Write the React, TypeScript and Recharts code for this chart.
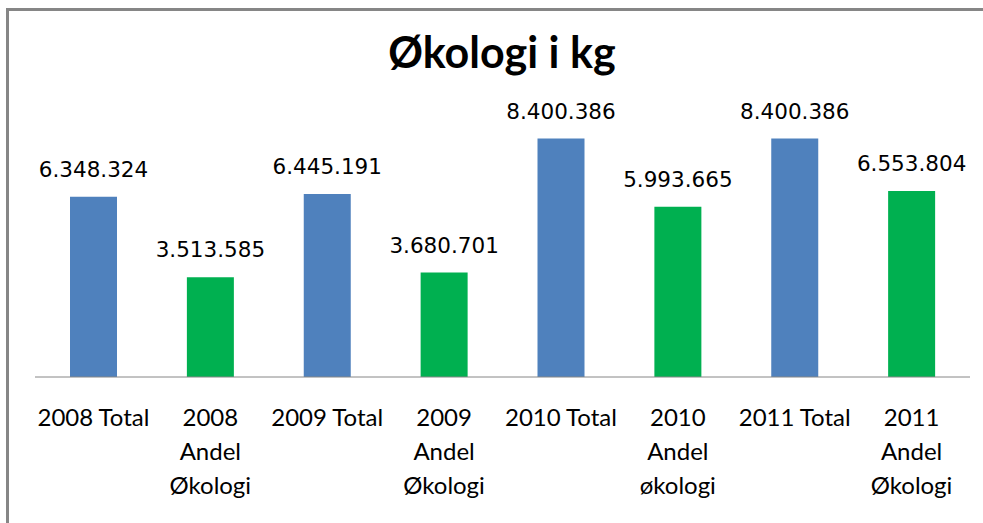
import { Bar, BarChart, LabelList, XAxis, YAxis, Cell } from 'recharts'

const CATEGORIES = [
  '2008 Total',
  '2008\nAndel\nØkologi',
  '2009 Total',
  '2009\nAndel\nØkologi',
  '2010 Total',
  '2010\nAndel\nøkologi',
  '2011 Total',
  '2011\nAndel\nØkologi',
]

const KG_VALUES = [6348324, 3513585, 6445191, 3680701, 8400386, 5993665, 8400386, 6553804]

const BAR_COLORS = ['#4F81BD', '#00B050']

const TITLE = 'Økologi i kg'

const rows = CATEGORIES.map((label, i) => ({ label, kg: KG_VALUES[i] }))

// danish style thousands separator
const formatKg = (v: number) => String(v).replace(/\B(?=(\d{3})+(?!\d))/g, '.')

function CategoryTick({ x, y, payload }: any) {
  const lines = String(payload.value).split('\n')
  return (
    <text
      x={x}
      y={y}
      textAnchor="middle"
      fill="#000"
      fontFamily="Lato, sans-serif"
      fontSize={24}
    >
      {lines.map((line, i) => (
        <tspan key={i} x={x} dy={i === 0 ? 49 : 34}>
          {line}
        </tspan>
      ))}
    </text>
  )
}

export default function App() {
  return (
    <div style={{ position: 'relative', width: 983, height: 523, overflow: 'hidden', background: '#fff' }}>
      <style>{'body{margin:0}'}</style>
      <div
        style={{
          position: 'absolute',
          left: 6,
          top: 8,
          width: 1100,
          height: 700,
          border: '3px solid #868686',
        }}
      />
      <div
        style={{
          position: 'absolute',
          left: 0,
          width: 1004,
          top: 26,
          textAlign: 'center',
          fontFamily: 'Lato, sans-serif',
          fontWeight: 700,
          fontSize: 43,
          lineHeight: '52px',
        }}
      >
        {TITLE}
      </div>
      <div style={{ position: 'absolute', left: 0, top: 0 }}>
        <BarChart
          width={983}
          height={523}
          data={rows}
          margin={{ top: 121.5, right: 13, bottom: 0, left: 35 }}
          barCategoryGap={0}
        >
          <XAxis
            dataKey="label"
            height={146}
            interval={0}
            tickLine={false}
            tickSize={0}
            tickMargin={0}
            axisLine={{ stroke: '#868686' }}
            tick={<CategoryTick />}
          />
          <YAxis hide domain={[0, 9000000]} />
          <Bar dataKey="kg" barSize={47} isAnimationActive={false}>
            {rows.map((_, i) => (
              <Cell key={i} fill={BAR_COLORS[i % 2]} />
            ))}
            <LabelList
              dataKey="kg"
              position="top"
              offset={20}
              formatter={(v: any) => formatKg(Number(v))}
              fill="#000"
              fontFamily="'DejaVu Sans', Verdana, sans-serif"
              fontSize={21.5}
            />
          </Bar>
        </BarChart>
      </div>
    </div>
  )
}
